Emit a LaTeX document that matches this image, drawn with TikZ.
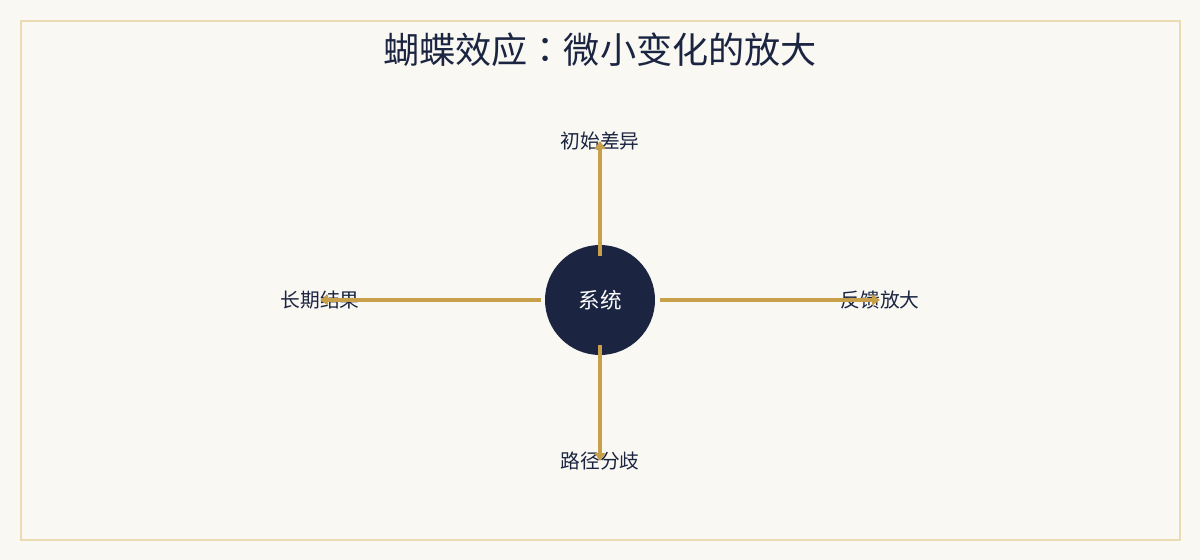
\documentclass[tikz,border=0pt]{standalone}
\usepackage{fontspec}
\newfontfamily\cjk{Noto Sans CJK SC}
\newfontfamily\cjktc{Noto Sans CJK TC}
\usetikzlibrary{arrows.meta}
\definecolor{paper}{RGB}{249,248,243}
\definecolor{frameline}{RGB}{234,219,178}
\definecolor{navy}{RGB}{27,37,65}
\definecolor{gold}{RGB}{201,160,74}
\tikzset{
  lbl/.style={inner sep=0.75pt, font=\cjk\fontsize{14.8}{17}\selectfont, text=navy},
  flow/.style={draw=gold, line width=3pt, -{Triangle[length=6pt,width=8pt]}},
}
\begin{document}
\begin{tikzpicture}[x=0.75pt,y=0.75pt,yscale=-1,xscale=1]
%set diagram: 1200 x 560
\useasboundingbox [fill=paper] (0,0) rectangle (1200,560);
%Shape: Frame
\draw [frameline, line width=1.5pt] (21,21) rectangle (1180,540);

% Title
\node (title) [inner sep=0.75pt, font=\cjk\fontsize{27.1}{31}\selectfont, text=navy] at (600,50) {蝴蝶效应{\cjktc ：}微小变化的放大};

%Shape: Circle
\node (sys) [circle, fill=navy, minimum size=82.5pt, inner sep=0pt, font=\cjk\fontsize{16.2}{19}\selectfont, text=white] at (600,300) {系统};

% Text Node
\node (init) [lbl] at (600,141) {初始差异};
% Text Node
\node (feed) [lbl] at (880,300) {反馈放大};
% Text Node
\node (path) [lbl] at (600,461) {路径分歧};
% Text Node
\node (result) [lbl] at (320,300) {长期结果};

%Straight Lines
\draw [flow, shorten <=33pt] (sys.center) -- (init.center);
\draw [flow, shorten <=45pt] (sys.center) -- (feed.center);
\draw [flow, shorten <=33.75pt] (sys.center) -- (path.center);
\draw [flow, shorten <=44.25pt] (sys.center) -- (result.center);
\end{tikzpicture}
\end{document}
